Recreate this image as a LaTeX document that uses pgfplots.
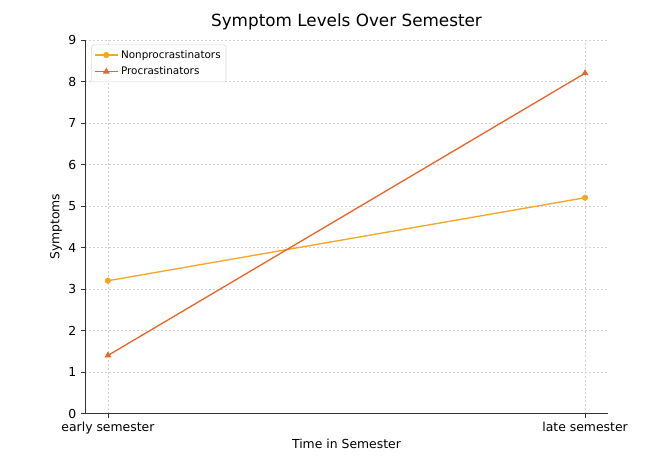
\documentclass[border=0pt]{standalone}
\usepackage{fontspec}
\setmainfont{DejaVu Sans}
\usepackage{pgfplots}
\pgfplotsset{compat=1.18}
\definecolor{nonp}{HTML}{F5A623}
\definecolor{proc}{HTML}{E8662A}
\begin{document}
\begin{tikzpicture}
\begin{axis}[
  name=ax,
  scale only axis,
  width=392pt, height=280pt,
  xmin=-0.048, xmax=1.048,
  ymin=0, ymax=9,
  xtick={0,1},
  xticklabels={early semester, late semester},
  ytick={0,1,...,9},
  axis x line*=bottom,
  axis y line*=left,
  axis line style={black!80, line width=0.6pt},
  tick style={black!80, line width=0.6pt},
  tick align=outside,
  major tick length=3pt,
  grid=major,
  grid style={dash pattern=on 1.5pt off 1.5pt, gray!35, line width=0.4pt},
  ticklabel style={font=\fontsize{9.3}{11}\selectfont},
  /pgf/number format/assume math mode=true,
  xlabel={Time in Semester},
  ylabel={Symptoms},
  label style={font=\fontsize{9.3}{11}\selectfont},
  xlabel style={yshift=3pt},
  ylabel style={yshift=-2pt},
  title={Symptom Levels Over Semester},
  title style={font=\fontsize{12.6}{15}\selectfont, yshift=-2pt},
  legend style={font=\fontsize{7.8}{9}\selectfont, draw=gray!30, rounded corners=1.5pt, at={(0.012,0.988)}, anchor=north west, row sep=1pt, inner sep=2pt},
  legend cell align=left,
]
\addplot[color=nonp, line width=1pt, mark=*, mark size=1.8pt] coordinates {(0,3.2) (1,5.2)};
\addlegendentry{Nonprocrastinators}
\addplot[color=proc, line width=1pt, mark=triangle*, mark size=2pt] coordinates {(0,1.4) (1,8.2)};
\addlegendentry{Procrastinators}
\end{axis}
\pgfresetboundingbox
\path (ax.south west) ++(-63.75pt,-33pt) coordinate (bl);
\path (ax.north east) ++(45pt,30pt) coordinate (tr);
\path[use as bounding box] (bl) rectangle (tr);
\end{tikzpicture}
\end{document}
